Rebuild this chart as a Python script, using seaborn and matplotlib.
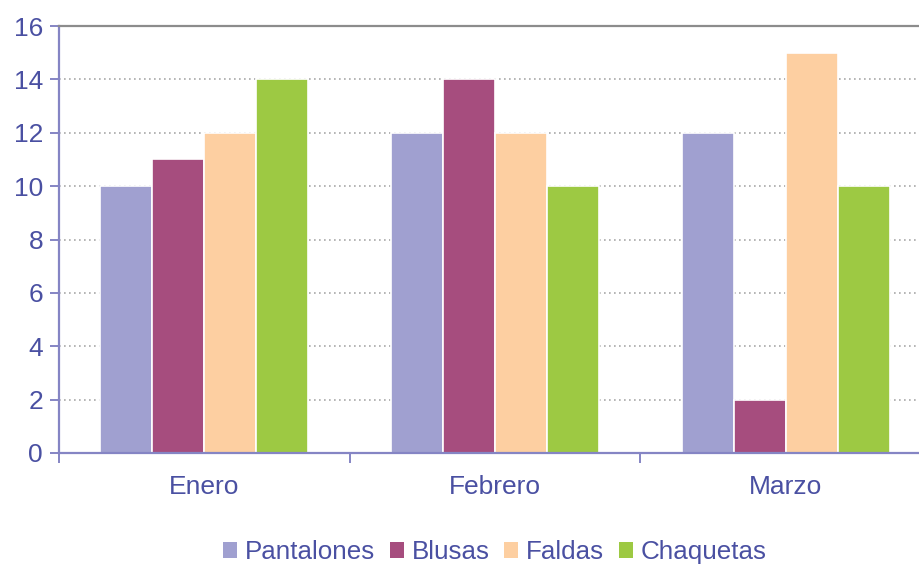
import matplotlib
matplotlib.use("Agg")
import matplotlib.pyplot as plt
import seaborn as sns
import pandas as pd
from matplotlib.patches import Patch

months = ["Enero", "Febrero", "Marzo"]
series = ["Pantalones", "Blusas", "Faldas", "Chaquetas"]
pantalones = [10, 12, 12]
blusas = [11, 14, 2]
faldas = [12, 12, 15]
chaquetas = [14, 10, 10]
colors = ["#a0a0d0", "#a64d7e", "#fdcfa1", "#9dc943"]
y_ticks = [0, 2, 4, 6, 8, 10, 12, 14, 16]

text_color = "#4a50a2"
axis_color = "#8585c4"

rows = []
for name, vals in zip(series, [pantalones, blusas, faldas, chaquetas]):
    for m, v in zip(months, vals):
        rows.append({"Mes": m, "Prenda": name, "Cantidad": v})
df = pd.DataFrame(rows)

sns.set_style("white")
plt.rcParams["font.family"] = ["Liberation Sans", "DejaVu Sans"]

fig = plt.figure(figsize=(9.2, 5.69), dpi=100)
# the plot area runs past the right edge of the figure
ax = fig.add_axes([59 / 920, 116 / 569, (931 - 59) / 920, (453 - 26) / 569])

sns.barplot(data=df, x="Mes", y="Cantidad", hue="Prenda", order=months,
            hue_order=series, palette=colors, width=0.715, edgecolor="white",
            linewidth=1.2, saturation=1, legend=False, ax=ax)

ax.set_ylim(0, 16)
ax.set_xlim(-0.5, 2.5)
ax.set_yticks(y_ticks)
ax.set_yticklabels([str(t) for t in y_ticks])
ax.set_xlabel("")
ax.set_ylabel("")

for t in y_ticks[1:-1]:
    ax.axhline(t, color="#a8a8a8", linestyle=(0, (1, 2)), linewidth=1.2, zorder=0)

for side in ["left", "bottom"]:
    ax.spines[side].set_color(axis_color)
    ax.spines[side].set_linewidth(1.6)
ax.spines["top"].set_color("#8c8c8c")
ax.spines["top"].set_linewidth(1.6)
ax.spines["right"].set_visible(False)

ax.tick_params(axis="y", which="major", direction="out", length=6.5, width=1.4,
               color=axis_color, labelcolor=text_color, labelsize=19, pad=5,
               left=True)
ax.tick_params(axis="x", which="major", length=0, labelcolor=text_color,
               labelsize=19, pad=16)
ax.set_xticks([-0.5, 0.5, 1.5, 2.5], minor=True)
ax.tick_params(axis="x", which="minor", direction="out", length=7, width=1.4,
               color=axis_color, bottom=True)

handles = [Patch(facecolor=c, edgecolor="none") for c in colors]
fig.legend(handles, series, loc="center", bbox_to_anchor=(0.538, 0.03), ncol=4,
           frameon=False, handlelength=0.55, handleheight=0.55,
           handletextpad=0.3, columnspacing=0.55,
           prop={"size": 18.7}, labelcolor=text_color)

fig.savefig("out.png", dpi=100)
